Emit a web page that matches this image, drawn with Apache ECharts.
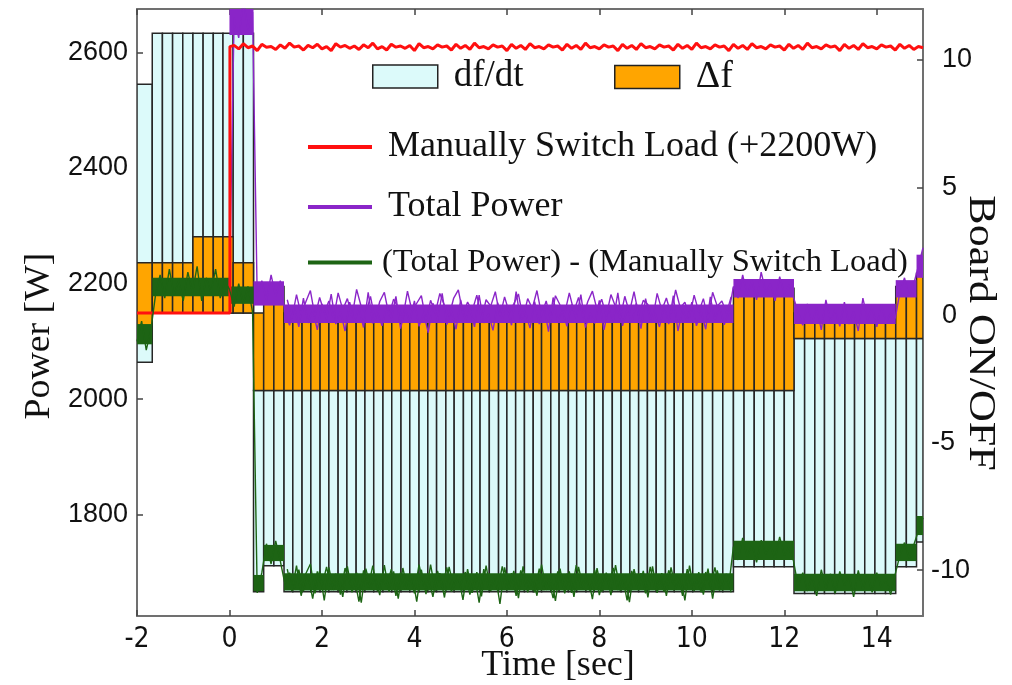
<!DOCTYPE html>
<html>
<head>
<meta charset="utf-8">
<script src="https://cdn.jsdelivr.net/npm/echarts@6/dist/echarts.min.js"></script>
<style>
  html, body { margin: 0; padding: 0; background: #fff; }
  #chart { width: 1012px; height: 685px; }
</style>
</head>
<body>
<div id="chart"></div>
<script>
// bar edges (sec)
var barEdges = [-2, -1.67, -1.45, -1.23, -1.01, -0.79, -0.57, -0.35, -0.14, 0.08, 0.30, 0.52,
  0.74, 0.96, 1.18, 1.37, 1.57, 1.76, 1.96, 2.15, 2.35, 2.54, 2.74, 2.93, 3.12, 3.32, 3.51, 3.71, 3.90,
  4.10, 4.29, 4.48, 4.68, 4.86, 5.06, 5.24, 5.42, 5.62, 5.82, 6.00, 6.19, 6.38, 6.57, 6.75, 6.95, 7.13, 7.33, 7.51, 7.71, 7.89,
  8.08, 8.28, 8.47, 8.66, 8.85, 9.04, 9.23, 9.43, 9.62, 9.81, 10.02, 10.23, 10.45, 10.67, 10.90,
  11.13, 11.35, 11.56, 11.78, 12.00, 12.21, 12.44, 12.66, 12.87, 13.09, 13.31, 13.52, 13.74, 13.96, 14.19, 14.41, 14.64, 14.86, 15];

// levels of the bars, one entry per run of equal bars (run ends at runEnds)
var runEnds   = [-1.67, -0.79, 0.08, 0.52, 0.74, 1.18, 10.90, 12.21, 14.41, 14.86, 15];
var dfdtLow   = [2064, 2149, 2149, 2149, 1667, 1712, 1667, 1710, 1664, 1710, 1753];
var dfdtHigh  = [2545, 2633, 2633, 2633, 2015, 2015, 2015, 2015, 2105, 2105, 2105];
var deltaLow  = [2105, 2149, 2149, 2149, 2015, 2015, 2015, 2015, 2105, 2105, 2105];
var deltaHigh = [2236, 2236, 2281, 2236, 2149, 2195, 2149, 2192, 2149, 2195, 2218];

// traces sampled every 0.1 s
var traceStep = 0.1;
var greenStart = -2;
var greenVals = [2100, 2135, 2085, 2120, 2180, 2215, 2175, 2225, 2180, 2205,
  2170, 2220, 2185, 2230, 2170, 2210, 2185, 2225, 2175, 2205,
  2190, 2160, 2200, 2165, 2195, 2150, 1665, 1700, 1750, 1715, 1755, 1720, 1680,
  1700, 1672, 1705, 1668, 1695, 1655, 1702, 1676, 1710, 1670,
  1698, 1662, 1708, 1680, 1693, 1650, 1704, 1674, 1712, 1668,
  1690, 1676, 1706, 1660, 1700, 1671, 1697, 1664, 1714, 1678,
  1692, 1658, 1703, 1673, 1709, 1667, 1694, 1680, 1701, 1662,
  1696, 1648, 1706, 1675, 1690, 1669, 1711, 1672, 1699, 1660,
  1704, 1677, 1693, 1666, 1707, 1670, 1689, 1656, 1702, 1678,
  1698, 1665, 1713, 1674, 1691, 1668, 1705, 1661, 1696, 1679,
  1708, 1670, 1694, 1652, 1703, 1676, 1699, 1664, 1710, 1672,
  1692, 1667, 1704, 1680, 1697, 1660, 1706, 1673, 1690, 1666,
  1701, 1675, 1709, 1669, 1695, 1678,
  1745, 1722, 1760, 1728, 1750, 1718, 1756, 1732, 1748, 1724, 1762, 1730, 1744, 1720,
  1676, 1700, 1668, 1695, 1660, 1705, 1672, 1698, 1664, 1702, 1678, 1693, 1658, 1704, 1670, 1697, 1666, 1700, 1674, 1690, 1662, 1698,
  1730, 1752, 1725, 1748, 1772, 1795];

// extra in-between samples (t = 1.25, 1.35, ...) for the long steady stretch
var greenMidStart = 1.25;
var greenMidVals = [1706, 1668, 1712, 1660, 1698, 1715, 1664, 1703, 1652, 1709,
  1670, 1696, 1658, 1711, 1666, 1700, 1648, 1707, 1673, 1694,
  1661, 1713, 1667, 1702, 1655, 1708, 1671, 1697, 1650, 1705,
  1663, 1714, 1669, 1699, 1657, 1710, 1674, 1695, 1653, 1706,
  1665, 1701, 1659, 1712, 1668, 1697, 1646, 1709, 1672, 1703,
  1656, 1711, 1666, 1698, 1660, 1714, 1670, 1694, 1651, 1707,
  1664, 1702, 1658, 1710, 1673, 1696, 1654, 1708, 1667, 1700,
  1661, 1713, 1669, 1695, 1649, 1706, 1672, 1703, 1657, 1711,
  1665, 1699, 1660, 1709, 1671, 1697, 1652, 1712, 1668, 1701,
  1662, 1707, 1655, 1704, 1670, 1698, 1666];

var purpleStart = 0;
var purpleVals = [2195, 2660, 2625, 2690, 2640, 2670, 2175, 2205, 2170, 2215, 2178, 2205,
  2150, 2128, 2160, 2125, 2175, 2132, 2155, 2120, 2165, 2138,
  2182, 2130, 2152, 2118, 2168, 2135, 2158, 2124, 2185, 2131,
  2150, 2127, 2163, 2140, 2178, 2122, 2156, 2133, 2170, 2126,
  2149, 2115, 2166, 2137, 2183, 2129, 2154, 2121, 2172, 2136,
  2157, 2125, 2180, 2132, 2148, 2119, 2167, 2139, 2159, 2128,
  2186, 2134, 2151, 2123, 2169, 2130, 2162, 2117, 2176, 2135,
  2153, 2126, 2164, 2140, 2181, 2124, 2150, 2131, 2171, 2120,
  2158, 2136, 2184, 2127, 2155, 2133, 2166, 2122, 2174, 2138,
  2149, 2125, 2161, 2130, 2179, 2118, 2156, 2134, 2168, 2127,
  2152, 2121, 2177, 2137, 2160, 2129, 2150,
  2195, 2175, 2215, 2180, 2205, 2172, 2220, 2185, 2200, 2170, 2212, 2182, 2198, 2176,
  2150, 2128, 2165, 2132, 2158, 2120, 2172, 2135, 2155, 2126, 2168, 2130, 2152, 2118, 2175, 2138, 2160, 2125, 2164, 2133, 2148, 2140,
  2185, 2210, 2178, 2200, 2230, 2262];

var purpleMidStart = 1.25;
var purpleMidVals = [2172, 2140, 2181, 2146, 2168, 2188, 2143, 2176, 2150, 2170,
  2139, 2184, 2155, 2174, 2142, 2190, 2160, 2148, 2178, 2137,
  2169, 2185, 2145, 2173, 2158, 2141, 2187, 2152, 2166, 2179,
  2136, 2171, 2149, 2183, 2162, 2144, 2175, 2189, 2147, 2168,
  2153, 2180, 2138, 2172, 2161, 2186, 2143, 2177, 2150, 2165,
  2182, 2140, 2174, 2157, 2188, 2146, 2170, 2135, 2179, 2163,
  2148, 2184, 2152, 2176, 2141, 2169, 2187, 2155, 2173, 2144,
  2181, 2160, 2139, 2178, 2150, 2186, 2145, 2171, 2164, 2137,
  2183, 2154, 2175, 2147, 2189, 2158, 2168, 2142, 2180, 2151,
  2174, 2138, 2185, 2161, 2170, 2149, 2177];

var redBefore = [[-2, 2149], [0.01, 2149], [0.01, 2610]];
var redStart = 0.1;
var redVals = [2612, 2606, 2615, 2608, 2611, 2603, 2614, 2609, 2610, 2605,
  2613, 2607, 2616, 2609, 2611, 2604, 2612, 2608, 2614, 2606,
  2610, 2603, 2615, 2609, 2612, 2607, 2611, 2605, 2613, 2608,
  2616, 2606, 2610, 2604, 2614, 2609, 2611, 2607, 2612, 2603,
  2615, 2608, 2610, 2606, 2613, 2609, 2611, 2604, 2614, 2607,
  2612, 2605, 2616, 2608, 2610, 2606, 2613, 2609, 2611, 2603,
  2614, 2607, 2612, 2605, 2615, 2608, 2610, 2606, 2613, 2609,
  2611, 2604, 2614, 2607, 2612, 2605, 2616, 2608, 2610, 2606,
  2613, 2609, 2611, 2603, 2614, 2607, 2612, 2605, 2615, 2608,
  2610, 2606, 2613, 2609, 2611, 2604, 2614, 2607, 2612, 2605,
  2616, 2608, 2610, 2606, 2613, 2609, 2611, 2603, 2614, 2607,
  2612, 2605, 2615, 2608, 2610, 2606, 2613, 2609, 2611, 2604,
  2614, 2607, 2612, 2605, 2616, 2608, 2610, 2606, 2613, 2609,
  2611, 2603, 2614, 2607, 2612, 2605, 2615, 2608, 2610, 2606,
  2613, 2609, 2611, 2604, 2614, 2607, 2612, 2605, 2610, 2608];

// dense core of the noisy traces: [t0, t1, low, high]
var purpleCore = [[0, 0.52, 2630, 2675], [0.52, 1.18, 2162, 2204], [1.18, 10.9, 2132, 2164],
  [10.9, 12.21, 2176, 2208], [12.21, 14.41, 2130, 2165], [14.41, 14.86, 2176, 2206], [14.86, 15, 2210, 2250]];
var greenCore = [[-2, -1.67, 2095, 2130], [-1.67, 0, 2178, 2210], [0, 0.52, 2165, 2195],
  [0.52, 0.74, 1668, 1696], [0.74, 1.18, 1720, 1748], [1.18, 10.9, 1669, 1699],
  [10.9, 12.21, 1722, 1755], [12.21, 14.41, 1668, 1698], [14.41, 14.86, 1720, 1750], [14.86, 15, 1765, 1798]];

var xTicks = [-2, 0, 2, 4, 6, 8, 10, 12, 14];
var yTicks = [1800, 2000, 2200, 2400, 2600];
var y2Ticks = [-10, -5, 0, 5, 10];

var dfdtBars = [], deltaBars = [];
for (var k = 0; k < barEdges.length - 1; k++) {
  var t0 = barEdges[k], t1 = barEdges[k + 1];
  var r = runEnds.findIndex(function (e) { return t1 <= e + 1e-6; });
  dfdtBars.push([t0, t1, dfdtLow[r], dfdtHigh[r]]);
  deltaBars.push([t0, t1, deltaLow[r], deltaHigh[r]]);
}

function sampled(start, vals) {
  return vals.map(function (v, i) { return [start + i * traceStep, v]; });
}

function rectItem(params, api) {
  var p0 = api.coord([api.value(0), api.value(3)]);
  var p1 = api.coord([api.value(1), api.value(2)]);
  return {
    type: 'rect',
    shape: { x: p0[0], y: p0[1], width: p1[0] - p0[0], height: p1[1] - p0[1] },
    style: api.style()
  };
}

var serif = '"Liberation Serif", "Times New Roman", serif';
var sans = '"Liberation Sans", Arial, sans-serif';
var narrow = '"Liberation Sans Narrow", "DejaVu Sans Condensed", "Liberation Sans", sans-serif';
var frame = '#707070';
var plain = function (v) { return String(v); };

var cCyan = '#dcfafa', cOrange = '#ffa500', cRed = '#ff1010', cPurple = '#8a25c8', cGreen = '#1d6414';

function legendText(size) {
  return { fontFamily: serif, fontSize: size, color: '#111', padding: [0, 0, 0, 11] };
}

function noisyLine(name, data, color) {
  return { name: name, type: 'line', data: data, showSymbol: false, clip: true,
    color: color, lineStyle: { color: color, width: 1.4 } };
}

var myChart = echarts.init(document.getElementById('chart'));
var option = {
  animation: false,
  backgroundColor: '#fff',
  grid: { left: 137, right: 89, top: 9, bottom: 69, outerBoundsMode: 'none', containLabel: false },
  graphic: [
    { type: 'text', x: 40, y: 336, rotation: Math.PI / 2, scaleX: 1.05,
      style: { text: 'Power [W]', fontFamily: serif, fontSize: 36, fill: '#111', align: 'center', verticalAlign: 'middle' } },
    { type: 'text', x: 980, y: 333, rotation: -Math.PI / 2, scaleX: 1.16,
      style: { text: 'Board ON/OFF', fontFamily: serif, fontSize: 38, fill: '#111', align: 'center', verticalAlign: 'middle' } },
    { type: 'text', x: 558, y: 666,
      style: { text: 'Time [sec]', fontFamily: serif, fontSize: 36, fill: '#111', align: 'center', verticalAlign: 'middle' } }
  ],
  legend: [
    { left: 372, top: 58, padding: 0, itemWidth: 65, itemHeight: 23, selectedMode: false,
      textStyle: legendText(37),
      data: [{ name: 'df/dt', icon: 'rect', itemStyle: { color: cCyan, borderColor: '#222', borderWidth: 1.5 } }] },
    { left: 614, top: 58, padding: 0, itemWidth: 65, itemHeight: 23, selectedMode: false,
      textStyle: legendText(38),
      data: [{ name: '\u0394f', icon: 'rect', itemStyle: { color: cOrange, borderColor: '#222', borderWidth: 1.5 } }] },
    { left: 308, top: 129, padding: 0, itemWidth: 64, itemHeight: 4, selectedMode: false,
      textStyle: legendText(36),
      data: [{ name: 'Manually Switch Load (+2200W)', icon: 'rect', itemStyle: { color: cRed, borderWidth: 0 } }] },
    { left: 308, top: 189, padding: 0, itemWidth: 64, itemHeight: 4, selectedMode: false,
      textStyle: legendText(36),
      data: [{ name: 'Total Power', icon: 'rect', itemStyle: { color: cPurple, borderWidth: 0 } }] },
    { left: 308, top: 246, padding: 0, itemWidth: 64, itemHeight: 4, selectedMode: false,
      textStyle: { fontFamily: serif, fontSize: 32.5, color: '#111', padding: [0, 0, 0, 5] },
      data: [{ name: '(Total Power) - (Manually Switch Load)', icon: 'rect', itemStyle: { color: cGreen, borderWidth: 0 } }] }
  ],
  xAxis: [
    { type: 'value', position: 'bottom', min: -2, max: 15,
      axisLine: { onZero: false, lineStyle: { color: frame, width: 2 } },
      axisTick: { inside: true, length: 6, customValues: xTicks, lineStyle: { color: '#444', width: 1.5 } },
      axisLabel: { customValues: xTicks, formatter: plain, fontFamily: narrow, fontSize: 28, color: '#111', margin: 10 },
      splitLine: { show: false } },
    { type: 'value', position: 'top', min: -2, max: 15,
      axisLine: { onZero: false, lineStyle: { color: frame, width: 2 } },
      axisTick: { inside: true, length: 6, customValues: xTicks, lineStyle: { color: '#444', width: 1.5 } },
      axisLabel: { show: false }, splitLine: { show: false } }
  ],
  yAxis: [
    { type: 'value', position: 'left', min: 1625, max: 2675,
      axisLine: { show: true, onZero: false, lineStyle: { color: frame, width: 2 } },
      axisTick: { show: true, inside: true, length: 6, customValues: yTicks, lineStyle: { color: '#444', width: 1.5 } },
      axisLabel: { customValues: yTicks, formatter: plain, fontFamily: sans, fontSize: 27, color: '#111', margin: 9 },
      splitLine: { show: false } },
    { type: 'value', position: 'right', min: -11.8, max: 12,
      axisLine: { show: true, onZero: false, lineStyle: { color: frame, width: 2 } },
      axisTick: { show: true, inside: true, length: 6, customValues: y2Ticks, lineStyle: { color: '#444', width: 1.5 } },
      axisLabel: { customValues: y2Ticks, margin: 8, color: '#111',
        formatter: function (v) { return v < 0 ? '{n|' + v + '}' : '{p|' + v + '}'; },
        rich: {
          n: { fontFamily: sans, fontSize: 27, color: '#111' },
          p: { fontFamily: sans, fontSize: 27, color: '#111', padding: [0, 0, 0, 11] }
        } },
      splitLine: { show: false } }
  ],
  series: [
    { name: 'df/dt', type: 'custom', renderItem: rectItem, data: dfdtBars,
      encode: { x: [0, 1], y: [2, 3] }, clip: true,
      itemStyle: { color: cCyan, borderColor: '#262626', borderWidth: 1.5 } },
    { name: '\u0394f', type: 'custom', renderItem: rectItem, data: deltaBars,
      encode: { x: [0, 1], y: [2, 3] }, clip: true,
      itemStyle: { color: cOrange, borderColor: '#262626', borderWidth: 1.5 } },
    { name: 'purpleCore', type: 'custom', renderItem: rectItem, data: purpleCore,
      encode: { x: [0, 1], y: [2, 3] }, clip: true, itemStyle: { color: cPurple } },
    noisyLine('Total Power', sampled(purpleStart, purpleVals), cPurple),
    noisyLine('purpleMid', sampled(purpleMidStart, purpleMidVals), cPurple),
    { name: 'Manually Switch Load (+2200W)', type: 'line',
      data: redBefore.concat(sampled(redStart, redVals)),
      showSymbol: false, clip: true, color: cRed, lineStyle: { color: cRed, width: 3 } },
    { name: 'greenCore', type: 'custom', renderItem: rectItem, data: greenCore,
      encode: { x: [0, 1], y: [2, 3] }, clip: true, itemStyle: { color: cGreen } },
    noisyLine('(Total Power) - (Manually Switch Load)', sampled(greenStart, greenVals), cGreen),
    noisyLine('greenMid', sampled(greenMidStart, greenMidVals), cGreen)
  ]
};
myChart.setOption(option);
</script>
</body>
</html>
